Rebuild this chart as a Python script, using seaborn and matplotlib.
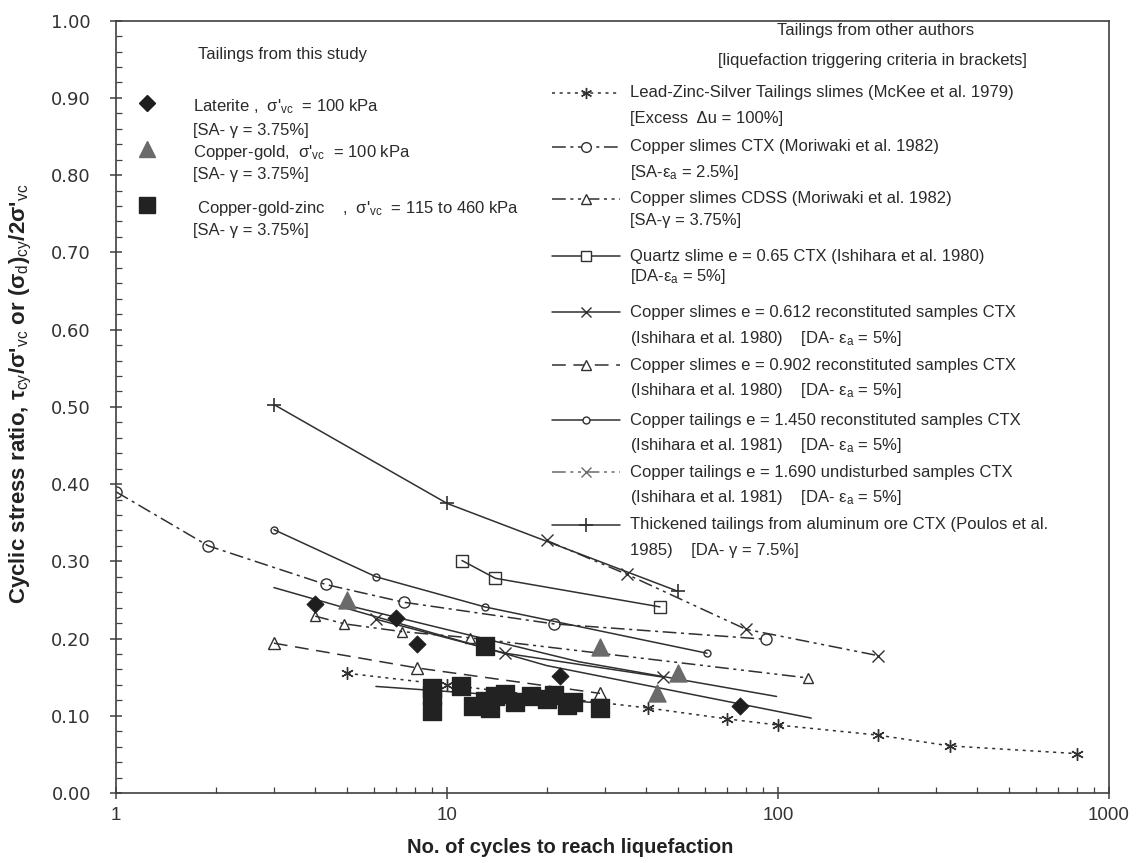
import numpy as np
import pandas as pd
import matplotlib
matplotlib.use("Agg")
import matplotlib.pyplot as plt
import seaborn as sns
from matplotlib.lines import Line2D
from matplotlib.ticker import FixedLocator, FuncFormatter, MultipleLocator, LogLocator, NullFormatter

# ---------------- data ----------------
# Tailings from this study
lat_N = [4.0, 7.0, 8.1, 22, 77]
lat_v = [0.245, 0.227, 0.193, 0.152, 0.113]
cg_N = [5.0, 29, 43, 50]
cg_v = [0.250, 0.189, 0.130, 0.155]
cgz_N = [9, 9, 9, 11, 12, 13, 13, 13.5, 14, 15, 16, 18, 20, 21, 23, 24, 29]
cgz_v = [0.136, 0.127, 0.106, 0.138, 0.113, 0.190, 0.119, 0.110, 0.126,
         0.128, 0.118, 0.126, 0.122, 0.127, 0.114, 0.118, 0.110]
# trend lines (no markers)
trendA_N = [3, 20, 126]
trendA_v = [0.266, 0.165, 0.097]
trendB_N = [5, 25, 99]
trendB_v = [0.243, 0.170, 0.125]
trendC_N = [6.1, 13, 30]
trendC_v = [0.138, 0.128, 0.116]

# Tailings from other authors
mckee_N = [5, 10, 40.6, 70, 100, 200, 330, 800]
mckee_v = [0.155, 0.140, 0.110, 0.096, 0.088, 0.075, 0.061, 0.051]
moriCTX_N = [1, 1.9, 4.3, 7.4, 21, 92]
moriCTX_v = [0.390, 0.320, 0.270, 0.247, 0.219, 0.199]
moriCDSS_N = [4, 4.9, 7.3, 11.7, 123]
moriCDSS_v = [0.229, 0.219, 0.209, 0.201, 0.149]
quartz_N = [11.1, 14, 44]
quartz_v = [0.301, 0.278, 0.241]
cs612_N = [6.1, 15, 45]
cs612_v = [0.225, 0.181, 0.150]
cs902_N = [3, 8.1, 29]
cs902_v = [0.194, 0.162, 0.129]
ct1450_N = [3, 6.1, 13, 61]
ct1450_v = [0.341, 0.280, 0.241, 0.181]
ct1690_N = [20, 35, 80, 200]
ct1690_v = [0.327, 0.283, 0.212, 0.178]
poulos_N = [3, 10, 50]
poulos_v = [0.503, 0.375, 0.261]

x_ticks = [1, 10, 100, 1000]
x_ticklabels = ["1", "10", "100", "1000"]

# ---------------- styling ----------------
sns.set_style("ticks")
plt.rcParams["font.family"] = ["Liberation Sans", "DejaVu Sans"]
plt.rcParams["mathtext.fontset"] = "custom"
plt.rcParams["mathtext.rm"] = "Liberation Sans"
plt.rcParams["mathtext.it"] = "Liberation Sans:italic"
plt.rcParams["mathtext.bf"] = "Liberation Sans:bold"

W, H = 1136, 863
fig = plt.figure(figsize=(W / 100, H / 100), dpi=100)
L, R, T, B = 116, 1109, 20.7, 793
ax = fig.add_axes([L / W, 1 - B / H, (R - L) / W, (B - T) / H])

LC = "#303030"

def line(N, v, ls, marker=None, ms=6, mfc="none", lw=1.1, mew=1.0, color=LC):
    df = pd.DataFrame({"N": N, "v": v})
    sns.lineplot(data=df, x="N", y="v", ax=ax, estimator=None, sort=False,
                 color=color, linestyle=ls, linewidth=lw, marker=marker,
                 markersize=ms, markerfacecolor=mfc, markeredgecolor=color,
                 markeredgewidth=mew)

DASHDOT = (0, (9, 3, 2, 3))
DASHDOTDOT = (0, (9, 3, 2, 3, 2, 3))
DASHED = (0, (9, 5))
DOTTED = (0, (2, 3))
AST = (6, 2, 0)

line(trendA_N, trendA_v, "-")
line(trendB_N, trendB_v, "-")
line(trendC_N, trendC_v, "-")
line(mckee_N, mckee_v, DOTTED, AST, ms=9)
line(moriCTX_N, moriCTX_v, DASHDOT, "o", ms=8)
line(moriCDSS_N, moriCDSS_v, DASHDOTDOT, "^", ms=7)
line(quartz_N, quartz_v, "-", "s", ms=8)
line(cs612_N, cs612_v, "-", "x", ms=8)
line(cs902_N, cs902_v, DASHED, "^", ms=8)
line(ct1450_N, ct1450_v, "-", "o", ms=5)
line(ct1690_N, ct1690_v, DASHDOTDOT, "x", ms=8)
line(poulos_N, poulos_v, "-", "+", ms=10, mew=1.2)

sns.scatterplot(x=lat_N, y=lat_v, ax=ax, marker="D", s=75, color="#1e1e1e",
                edgecolor="#1e1e1e", zorder=5)
sns.scatterplot(x=cg_N, y=cg_v, ax=ax, marker="^", s=150, color="#6a6a6a",
                edgecolor="#6a6a6a", zorder=5)
sns.scatterplot(x=cgz_N, y=cgz_v, ax=ax, marker="s", s=150, color="#222222",
                edgecolor="#222222", zorder=5)

ax.set_xscale("log")
ax.set_xlim(1, 1000)
ax.set_ylim(0, 1.0)
ax.xaxis.set_major_locator(FixedLocator(x_ticks))
ax.xaxis.set_major_formatter(FuncFormatter(lambda v, p: x_ticklabels[x_ticks.index(round(v))] if round(v) in x_ticks else ""))
ax.xaxis.set_minor_locator(LogLocator(base=10, subs=np.arange(2, 10)))
ax.xaxis.set_minor_formatter(NullFormatter())
ax.yaxis.set_major_locator(MultipleLocator(0.1))
ax.yaxis.set_minor_locator(MultipleLocator(0.02))
ax.yaxis.set_major_formatter(FuncFormatter(lambda v, p: f"{v:.2f}"))

for s in ax.spines.values():
    s.set_color("#404040")
    s.set_linewidth(1.2)
ax.tick_params(axis="both", which="major", direction="inout", length=8, width=1.1, color="#404040")
ax.tick_params(axis="both", which="minor", direction="in", length=4, width=0.9, color="#404040")
ax.tick_params(axis="y", which="major", pad=14)
ax.tick_params(axis="x", which="major", pad=6)
for lab in ax.get_yticklabels():
    lab.set_fontfamily("DejaVu Sans")
    lab.set_fontsize(13)
    lab.set_color("#333333")
for lab in ax.get_xticklabels():
    lab.set_fontsize(13.5)
    lab.set_color("#333333")

ax.set_xlabel("No. of cycles to reach liquefaction", fontsize=14.5, fontweight="bold", color="#222222")
ax.xaxis.set_label_coords((570 - L) / (R - L), -(838 - B) / (B - T))
ax.set_ylabel("Cyclic stress ratio, τ$_{\\mathrm{cy}}$/σ'$_{\\mathrm{vc}}$ or (σ$_{\\mathrm{d}}$)$_{\\mathrm{cy}}$/2σ'$_{\\mathrm{vc}}$",
              fontsize=16, fontweight="bold", color="#222222")
ax.yaxis.set_label_coords((34 - L) / (R - L), (B - 394) / (B - T))

# ---------------- legends (drawn by hand, pixel layout) ----------------
def fx(px):
    return px / W

def fy(py):
    return 1 - py / H

FS = 12
TC = "#2a2a2a"
SV = "σ'$_{\\mathrm{vc}}$"
EA = "ε$_{\\mathrm{a}}$"

def ftext(px, py, s, ha="left", fs=FS):
    fig.text(fx(px), fy(py), s, ha=ha, va="center", fontsize=fs, color=TC)

# left: this study
ftext(198, 55, "Tailings from this study")
fig.add_artist(Line2D([fx(147)], [fy(103)], transform=fig.transFigure, marker="D", ms=8,
                      mfc="#1e1e1e", mec="#1e1e1e", ls="none"))
ftext(193, 107, "Laterite ,  " + SV + "  = 100 kPa")
ftext(193, 130, "[SA- γ = 3.75%]")
fig.add_artist(Line2D([fx(147)], [fy(149)], transform=fig.transFigure, marker="^", ms=11,
                      mfc="#6a6a6a", mec="#6a6a6a", ls="none"))
ftext(193, 153, "Copper-gold,  " + SV + "  = 100 kPa")
ftext(193, 175, "[SA- γ = 3.75%]")
fig.add_artist(Line2D([fx(147)], [fy(205)], transform=fig.transFigure, marker="s", ms=11,
                      mfc="#222222", mec="#222222", ls="none"))
ftext(197, 208, "Copper-gold-zinc    ,  " + SV + "  = 115 to 460 kPa")
ftext(193, 230, "[SA- γ = 3.75%]")

# right: other authors
ftext(876, 31, "Tailings from other authors", ha="center")
ftext(872, 60, "[liquefaction triggering criteria in brackets]", ha="center")

def leg(py, ls, marker, ms, mew=1.0, color=LC):
    fig.add_artist(Line2D([fx(552), fx(620)], [fy(py), fy(py)], transform=fig.transFigure,
                          ls=ls, color=color, lw=1.1))
    fig.add_artist(Line2D([fx(586)], [fy(py)], transform=fig.transFigure, marker=marker,
                          ms=ms, mfc="white", mec=color, mew=mew, ls="none"))

X0 = 630
leg(93, DOTTED, AST, 8)
ftext(X0, 93, "Lead-Zinc-Silver Tailings slimes (McKee et al. 1979)")
ftext(X0, 118, "[Excess  Δu = 100%]")
leg(147, DASHDOT, "o", 7)
ftext(X0, 147, "Copper slimes CTX (Moriwaki et al. 1982)")
ftext(X0, 172, "[SA-" + EA + " = 2.5%]")
leg(199, DASHDOTDOT, "^", 7)
ftext(X0, 199, "Copper slimes CDSS (Moriwaki et al. 1982)")
ftext(X0, 221, "[SA-γ = 3.75%]")
leg(256, "-", "s", 7)
ftext(X0, 256, "Quartz slime e = 0.65 CTX (Ishihara et al. 1980)")
ftext(X0, 277, "[DA-" + EA + " = 5%]")
leg(312, "-", "x", 7)
ftext(X0, 312, "Copper slimes e = 0.612 reconstituted samples CTX")
ftext(X0, 338, "(Ishihara et al. 1980)    [DA- " + EA + " = 5%]")
leg(365, DASHED, "^", 7)
ftext(X0, 365, "Copper slimes e = 0.902 reconstituted samples CTX")
ftext(X0, 390, "(Ishihara et al. 1980)    [DA- " + EA + " = 5%]")
leg(420, "-", "o", 5)
ftext(X0, 420, "Copper tailings e = 1.450 reconstituted samples CTX")
ftext(X0, 445, "(Ishihara et al. 1981)    [DA- " + EA + " = 5%]")
leg(472, DASHDOTDOT, "x", 7, color="#6a6a6a")
ftext(X0, 472, "Copper tailings e = 1.690 undisturbed samples CTX")
ftext(X0, 497, "(Ishihara et al. 1981)    [DA- " + EA + " = 5%]")
leg(525, "-", "+", 10, mew=1.2)
ftext(X0, 525, "Thickened tailings from aluminum ore CTX (Poulos et al.")
ftext(X0, 551, "1985)    [DA- γ = 7.5%]")

fig.savefig("out.png", dpi=100)
